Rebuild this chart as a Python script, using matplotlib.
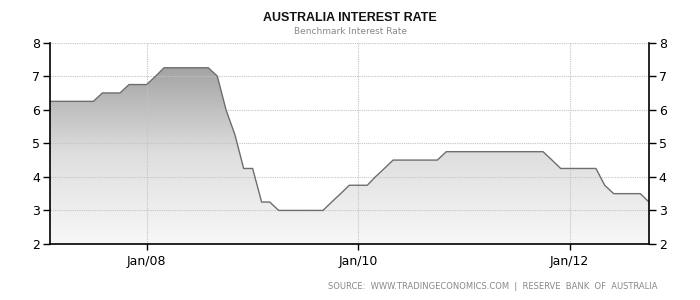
import matplotlib
matplotlib.use("Agg")
import matplotlib.pyplot as plt
import matplotlib.dates as mdates
from matplotlib.colors import LinearSegmentedColormap
import numpy as np
import pandas as pd

dates = pd.date_range("2007-02-01", "2012-10-01", freq="MS")
rates = [6.25, 6.25, 6.25, 6.25, 6.25, 6.25, 6.5, 6.5, 6.5, 6.75, 6.75, 6.75,   # Feb07-Jan08
         7.0, 7.25, 7.25, 7.25, 7.25, 7.25, 7.25, 7.0, 6.0, 5.25, 4.25, 4.25,   # Feb08-Jan09
         3.25, 3.25, 3.0, 3.0, 3.0, 3.0, 3.0, 3.0, 3.25, 3.5, 3.75, 3.75,       # Feb09-Jan10
         3.75, 4.0, 4.25, 4.5, 4.5, 4.5, 4.5, 4.5, 4.5, 4.75, 4.75, 4.75,       # Feb10-Jan11
         4.75, 4.75, 4.75, 4.75, 4.75, 4.75, 4.75, 4.75, 4.75, 4.5, 4.25, 4.25, # Feb11-Jan12
         4.25, 4.25, 4.25, 3.75, 3.5, 3.5, 3.5, 3.5, 3.25]                      # Feb12-Oct12
yticks = [2, 3, 4, 5, 6, 7, 8]
xtick_dates = pd.to_datetime(["2008-01-01", "2010-01-01", "2012-01-01"])

x = mdates.date2num(dates)

fig = plt.figure(figsize=(7, 3), dpi=100)
ax = fig.add_axes([0.0714, 0.1867, 0.8557, 0.6713])
ax.set_xlim(x[0], x[-1])
ax.set_ylim(2, 8)

# gradient fill
poly = ax.fill_between(x, rates, 2, facecolor="none", edgecolor="none")
grad = np.linspace(0, 1, 256).reshape(-1, 1)
cmap = LinearSegmentedColormap.from_list("g", ["#f8f8f8", "#dedede", "#a0a0a0"])
im = ax.imshow(grad, extent=[x[0], x[-1], 2, 7.4], origin="lower", aspect="auto",
               cmap=cmap, zorder=1)
ax.set_ylim(2, 8)
path = poly.get_paths()[0]
im.set_clip_path(path, transform=ax.transData)
ax.plot(x, rates, color="#6e6e6e", lw=1.0, zorder=3)

ax.set_yticks(yticks)
ax.set_xticks(mdates.date2num(xtick_dates))
ax.xaxis.set_major_formatter(mdates.DateFormatter("%b/%y"))
ax.set_axisbelow(False)
ax.grid(True, color="#c4c4c4", linestyle=(0, (1, 1)), lw=0.8, zorder=2)

ax.spines["top"].set_visible(False)
for s in ["left", "right", "bottom"]:
    ax.spines[s].set_color("black")
    ax.spines[s].set_linewidth(1.2)
    ax.spines[s].set_zorder(4)
ax.tick_params(axis="y", which="both", left=True, right=True, labelleft=True,
               labelright=True, direction="out", length=5, width=1, labelsize=9, pad=2)
ax.tick_params(axis="x", direction="out", length=4, width=1, labelsize=9, colors="black", pad=4)

fig.text(0.5, 0.94, "AUSTRALIA INTEREST RATE", ha="center", va="center",
         fontsize=9, fontweight="bold", color="#111111", family="Liberation Sans")
fig.text(0.5, 0.895, "Benchmark Interest Rate", ha="center", va="center",
         fontsize=6.5, color="#888888")
fig.text(0.94, 0.045, "SOURCE:  WWW.TRADINGECONOMICS.COM  |  RESERVE  BANK  OF  AUSTRALIA",
         ha="right", va="center", fontsize=6, color="#888888")

fig.savefig("out.png", dpi=100)
